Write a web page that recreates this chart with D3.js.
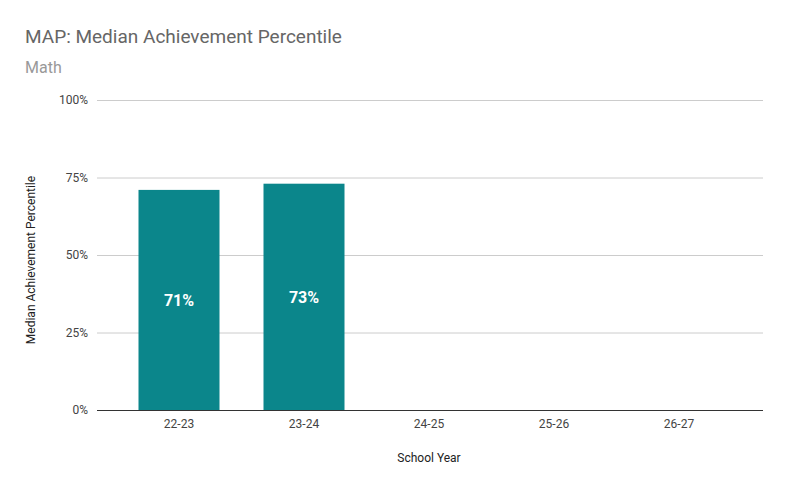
<!DOCTYPE html>
<html><head><meta charset="utf-8">
<script src="https://cdn.jsdelivr.net/npm/d3@7"></script>
<style>body{margin:0;background:#fff}text{font-family:Roboto,"Noto Sans",sans-serif}</style>
</head><body>
<svg id="chart" width="787" height="487"></svg>
<script>
var years = ["22-23", "23-24", "24-25", "25-26", "26-27"];
var values = [71, 73, null, null, null];
var yTicks = [0, 25, 50, 75, 100];

var svg = d3.select("#chart");
var x = d3.scaleBand().domain(years).range([116.5, 741.5]).paddingInner(0.352).paddingOuter(0.176);
var y = d3.scaleLinear().domain([0, 100]).range([410, 100]);

svg.append("text").attr("x", 25).attr("y", 43).attr("font-size", 19).attr("fill", "#666").text("MAP: Median Achievement Percentile");
svg.append("text").attr("x", 25).attr("y", 73).attr("font-size", 16).attr("fill", "#999").text("Math");

// gridlines
svg.selectAll(".grid").data(yTicks).enter().append("line")
  .attr("x1", 97).attr("x2", 763)
  .attr("y1", function(d){ return y(d) + 0.5; }).attr("y2", function(d){ return y(d) + 0.5; })
  .attr("stroke", function(d){ return d == 0 ? "#333" : "#ccc"; }).attr("stroke-width", 1);

svg.selectAll(".ytick").data(yTicks).enter().append("text")
  .attr("x", 88).attr("y", function(d){ return y(d) + 4; })
  .attr("text-anchor", "end").attr("font-size", 12).attr("fill", "#444")
  .text(function(d){ return d + "%"; });

var data = years.map(function(d, i){ return {year: d, v: values[i]}; }).filter(function(d){ return d.v != null; });

svg.selectAll(".bar").data(data).enter().append("rect")
  .attr("x", function(d){ return x(d.year); }).attr("width", x.bandwidth())
  .attr("y", function(d){ return y(d.v); }).attr("height", function(d){ return y(0) - y(d.v); })
  .attr("fill", "#0b868b");

svg.selectAll(".lbl").data(data).enter().append("text")
  .attr("x", function(d){ return x(d.year) + x.bandwidth()/2; })
  .attr("y", function(d){ return (y(d.v) + y(0))/2 + 6; })
  .attr("text-anchor", "middle").attr("font-size", 16).attr("font-weight", "bold").attr("fill", "#fff")
  .text(function(d){ return d.v + "%"; });

svg.selectAll(".xtick").data(years).enter().append("text")
  .attr("x", function(d){ return x(d) + x.bandwidth()/2; }).attr("y", 428)
  .attr("text-anchor", "middle").attr("font-size", 12).attr("fill", "#444").text(function(d){ return d; });

svg.append("text").attr("x", 429).attr("y", 462).attr("text-anchor", "middle").attr("font-size", 12).attr("fill", "#222").text("School Year");
svg.append("text").attr("transform", "translate(35,260) rotate(-90)").attr("text-anchor", "middle").attr("font-size", 12).attr("fill", "#222").text("Median Achievement Percentile");
</script>
</body></html>
